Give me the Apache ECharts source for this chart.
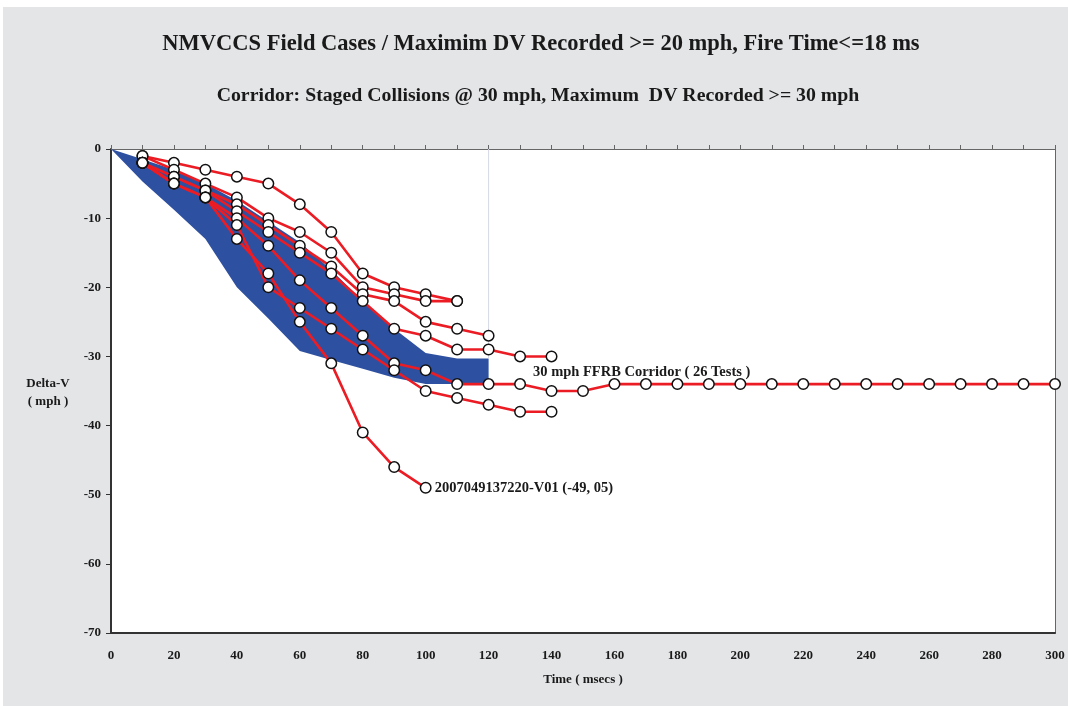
<!DOCTYPE html>
<html>
<head>
<meta charset="utf-8">
<script src="https://cdn.jsdelivr.net/npm/echarts@6/dist/echarts.min.js"></script>
<style>
html,body{margin:0;padding:0;background:#ffffff;}
#c{width:1068px;height:706px;}
</style>
</head>
<body>
<div id="c"></div>
<script>
// ---- data ----
const xTicks = [0,20,40,60,80,100,120,140,160,180,200,220,240,260,280,300];
const yTicks = [0,-10,-20,-30,-40,-50,-60,-70];

const caseU1 = [[10,-1],[20,-2],[30,-3],[40,-4],[50,-5],[60,-8],[70,-12],[80,-18],[90,-20],[100,-21],[110,-22]];
const caseU2 = [[10,-1],[20,-3],[30,-5],[40,-7],[50,-10],[60,-12],[70,-15],[80,-20],[90,-21],[100,-22],[110,-22]];
const caseU3 = [[10,-2],[20,-4],[30,-6],[40,-8],[50,-11],[60,-14],[70,-17],[80,-21],[90,-22],[100,-25],[110,-26],[120,-27]];
const caseU4 = [[10,-2],[20,-4],[30,-6],[40,-9],[50,-12],[60,-15],[70,-18],[80,-22],[90,-26],[100,-27],[110,-29],[120,-29],[130,-30],[140,-30]];
const caseS1 = [[10,-2],[20,-5],[30,-7],[40,-10],[50,-14],[60,-19],[70,-23],[80,-27],[90,-31],[100,-32],[110,-34],[120,-34],[130,-34],[140,-35],[150,-35],[160,-34],[170,-34],[180,-34],[190,-34],[200,-34],[210,-34],[220,-34],[230,-34],[240,-34],[250,-34],[260,-34],[270,-34],[280,-34],[290,-34],[300,-34]];
const caseS2 = [[10,-2],[20,-5],[30,-7],[40,-11],[50,-20],[60,-23],[70,-26],[80,-29],[90,-32],[100,-35],[110,-36],[120,-37],[130,-38],[140,-38]];
const caseS3 = [[10,-2],[20,-5],[30,-7],[40,-13],[50,-18],[60,-25],[70,-31],[80,-41],[90,-46],[100,-49]];

const corridorUpper = [[0,0],[10,-1.5],[20,-3],[30,-5],[40,-7.5],[50,-10.5],[60,-13.5],[70,-17.5],[80,-22],[90,-26],[100,-29.5],[110,-30.3],[120,-30.3]];
const corridorLower = [[0,0],[10,-4.7],[20,-8.8],[30,-13],[40,-20],[50,-24.5],[60,-29.2],[70,-30.5],[80,-31.8],[90,-33.1],[100,-34],[110,-34],[120,-34]];

const caseLabel = '2007049137220-V01 (-49, 05)';
const corridorLabel = '30 mph FFRB Corridor ( 26 Tests )';
const titleText = 'NMVCCS Field Cases / Maximim DV Recorded >= 20 mph, Fire Time<=18 ms';
const subTitleText = 'Corridor: Staged Collisions @ 30 mph, Maximum  DV Recorded >= 30 mph';

// ---- chart ----
const FONT = '"Liberation Serif", "Times New Roman", serif';
const RED = '#ec1c24';
const BLUE = '#2e50a0';
const cases = [caseU1, caseU2, caseU3, caseU4, caseS1, caseS2, caseS3];

const chart = echarts.init(document.getElementById('c'), null, {renderer:'canvas'});

const lineSeries = cases.map(d => ({
  type:'line', data:d, showSymbol:false, symbol:'none', z:3,
  lineStyle:{color:RED, width:2.6}, silent:true, animation:false
}));

const allPoints = [].concat(...cases);

const option = {
  animation:false,
  backgroundColor:'#ffffff',
  graphic:[
    {type:'rect', z:-10, shape:{x:3,y:7,width:1065,height:699}, style:{fill:'#e4e5e7'}},
    {type:'text', x:541, y:33, z:10, style:{text:titleText, font:'bold 22.5px '+FONT, fill:'#1a1a1a', align:'center'}},
    {type:'text', x:538, y:86, z:10, style:{text:subTitleText, font:'bold 19.8px '+FONT, fill:'#1a1a1a', align:'center'}},
    {type:'text', x:48, y:377, z:10, style:{text:'Delta-V', font:'bold 13px '+FONT, fill:'#1a1a1a', align:'center'}},
    {type:'text', x:48, y:395, z:10, style:{text:'( mph )', font:'bold 13px '+FONT, fill:'#1a1a1a', align:'center'}},
    {type:'text', x:583, y:673, z:10, style:{text:'Time ( msecs )', font:'bold 13px '+FONT, fill:'#1a1a1a', align:'center'}},
    {type:'text', x:533, y:365, z:10, style:{text:corridorLabel, font:'bold 14.5px '+FONT, fill:'#1a1a1a'}}
  ],
  grid:{left:111, right:13, top:149, bottom:73, show:true, backgroundColor:'#ffffff', borderWidth:0},
  xAxis:[
    {type:'value', position:'bottom', min:0, max:300, interval:20,
     axisLine:{show:true, onZero:false, lineStyle:{color:'#333', width:2}},
     axisTick:{show:false},
     splitLine:{show:false},
     axisLabel:{color:'#1a1a1a', fontFamily:FONT, fontWeight:'bold', fontSize:13, margin:16,
       formatter:v => xTicks.includes(v) ? String(v) : ''}},
    {type:'value', position:'top', min:0, max:300, interval:10,
     axisLine:{show:true, onZero:false, lineStyle:{color:'#666', width:1}},
     axisTick:{show:true, inside:false, length:4, lineStyle:{color:'#666'}},
     axisLabel:{show:false}, splitLine:{show:false}}
  ],
  yAxis:[
    {type:'value', position:'left', min:-70, max:0, interval:10,
     axisLine:{show:true, onZero:false, lineStyle:{color:'#333', width:2}},
     axisTick:{show:true, inside:false, length:5, lineStyle:{color:'#333'}},
     splitLine:{show:false},
     axisLabel:{color:'#1a1a1a', fontFamily:FONT, fontWeight:'bold', fontSize:13, margin:10,
       formatter:v => yTicks.includes(v) ? String(v) : ''}},
    {type:'value', position:'right', min:-70, max:0, interval:10,
     axisLine:{show:true, onZero:false, lineStyle:{color:'#666', width:1}},
     axisTick:{show:false}, axisLabel:{show:false}, splitLine:{show:false}}
  ],
  series:[
    {type:'custom', z:1, silent:true, data:[0],
     renderItem:(params, api) => {
       const pts = corridorUpper.map(p => api.coord(p))
         .concat(corridorLower.slice().reverse().map(p => api.coord(p)));
       return {type:'polygon', shape:{points:pts}, style:{fill:BLUE}};
     }},
    {type:'line', z:2, silent:true, symbol:'none',
     data:[[120,0],[120,corridorUpper[corridorUpper.length-1][1]]],
     lineStyle:{color:'#d6d8e6', width:1}},
    ...lineSeries,
    {type:'scatter', z:5, data:allPoints, symbol:'circle', symbolSize:10.5, silent:true,
     itemStyle:{color:'#ffffff', borderColor:'#111111', borderWidth:1.5, opacity:1}},
    {type:'scatter', z:6, data:[caseS3[caseS3.length-1]], symbolSize:0, silent:true,
     itemStyle:{opacity:1},
     label:{show:true, position:'right', distance:9, formatter:caseLabel,
       fontFamily:FONT, fontWeight:'bold', fontSize:14.5, color:'#1a1a1a', opacity:1}}
  ]
};
chart.setOption(option);
</script>
</body>
</html>
